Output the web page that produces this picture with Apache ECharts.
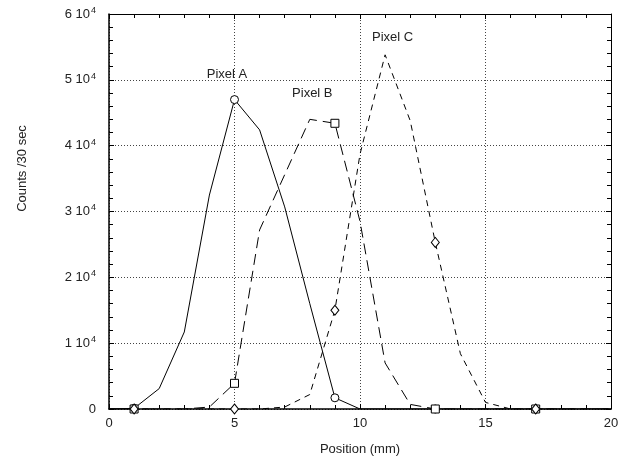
<!DOCTYPE html>
<html>
<head>
<meta charset="utf-8">
<script src="https://cdn.jsdelivr.net/npm/echarts@6/dist/echarts.min.js"></script>
<style>
  html, body { margin: 0; background: #fff; }
  #chart { width: 631px; height: 464px; }
</style>
</head>
<body>
<div id="chart"></div>
<script>
// position along the scan (mm)
const positions = [0, 1, 2, 3, 4, 5, 6, 7, 8, 9, 10, 11, 12, 13, 14, 15, 16, 17, 18, 19, 20];
// counts / 30 sec for each pixel
const pixelA = [0, 100, 3100, 11700, 32500, 47000, 42400, 30700, 16000, 1700, 0, 0, 0, 0, 0, 0, 0, 0, 0, 0, 0];
const pixelB = [0, 0, 0, 0, 300, 3900, 27200, 35600, 44000, 43400, 28500, 7000, 700, 0, 0, 0, 0, 0, 0, 0, 0];
const pixelC = [0, 0, 0, 0, 0, 0, 0, 300, 2200, 15000, 38700, 53800, 43800, 25300, 8400, 1000, 0, 0, 0, 0, 0];
const seriesNames = ["Pixel A", "Pixel B", "Pixel C"];
// where the curve labels sit (data space)
const labelAt = [[4.7, 50800], [8.1, 48000], [11.3, 56500]];

const font = "Liberation Sans, Arial, sans-serif";
const ink = "#222";

function pairs(vals) {
  return positions.map((x, i) => [x, vals[i]]);
}

// a marker on every 4th point, starting at 1 mm
function markerEvery(shape) {
  return (value, params) => (params.dataIndex % 4 === 1 ? shape : "none");
}

function makeSeries(name, vals, shape, size, dash, label) {
  return {
    name: name,
    type: "line",
    data: pairs(vals),
    symbol: markerEvery(shape),
    symbolSize: size,
    showAllSymbol: true,
    lineStyle: { color: "#000", width: 1, type: dash },
    itemStyle: { color: "#fff", borderColor: "#000", borderWidth: 1 },
    emphasis: { disabled: true },
    animation: false,
    markPoint: {
      symbol: "circle",
      symbolSize: 0,
      silent: true,
      label: {
        show: true,
        position: "inside",
        formatter: name,
        color: ink,
        fontFamily: font,
        fontSize: 13,
      },
      data: [{ coord: label }],
    },
  };
}

const chart = echarts.init(document.getElementById("chart"));

const tickStyle = { inside: true, length: 5, lineStyle: { color: "#000", width: 1 } };
const minorStyle = { show: true, splitNumber: 5, length: 4, lineStyle: { color: "#000", width: 1 } };
const gridDots = { show: true, lineStyle: { color: "#444", width: 1, type: [1, 2] } };

chart.setOption({
  backgroundColor: "#fff",
  animation: false,
  grid: { left: 109, right: 20, top: 14, bottom: 55 },
  xAxis: [
    {
      type: "value",
      min: 0,
      max: 20,
      interval: 5,
      name: "Position (mm)",
      nameLocation: "middle",
      nameGap: 34,
      nameTextStyle: { color: ink, fontFamily: font, fontSize: 13 },
      axisLine: { show: true, onZero: false, lineStyle: { color: "#000", width: 1.5 } },
      axisTick: tickStyle,
      minorTick: minorStyle,
      splitLine: gridDots,
      axisLabel: { color: ink, fontFamily: font, fontSize: 13, margin: 8 },
    },
    {
      type: "value",
      position: "top",
      min: 0,
      max: 20,
      interval: 5,
      axisLine: { show: true, onZero: false, lineStyle: { color: "#000", width: 1 } },
      axisTick: tickStyle,
      minorTick: minorStyle,
      splitLine: { show: false },
      axisLabel: { show: false },
    },
  ],
  yAxis: [
    {
      type: "value",
      min: 0,
      max: 60000,
      interval: 10000,
      name: "Counts /30 sec",
      nameLocation: "middle",
      nameGap: 80,
      nameTextStyle: { color: ink, fontFamily: font, fontSize: 13, padding: [0, 0, 0, 86] },
      axisLine: { show: true, onZero: false, lineStyle: { color: "#000", width: 1.5 } },
      axisTick: tickStyle,
      minorTick: minorStyle,
      splitLine: gridDots,
      axisLabel: {
        margin: 13,
        formatter: (v) => (v === 0 ? "{n|0}" : "{n|" + v / 10000 + " 10}{s|4}"),
        rich: {
          n: { color: ink, fontFamily: font, fontSize: 13 },
          s: { color: ink, fontFamily: font, fontSize: 9, padding: [0, 0, 7, 1] },
        },
      },
    },
    {
      type: "value",
      position: "right",
      min: 0,
      max: 60000,
      interval: 10000,
      axisLine: { show: true, onZero: false, lineStyle: { color: "#000", width: 1 } },
      axisTick: tickStyle,
      minorTick: minorStyle,
      splitLine: { show: false },
      axisLabel: { show: false },
    },
  ],
  series: [
    makeSeries(seriesNames[0], pixelA, "circle", 8, "solid", labelAt[0]),
    makeSeries(seriesNames[1], pixelB, "rect", 8, [11, 6], labelAt[1]),
    makeSeries(seriesNames[2], pixelC, "diamond", [8, 10], [6, 5], labelAt[2]),
  ],
});
</script>
</body>
</html>
